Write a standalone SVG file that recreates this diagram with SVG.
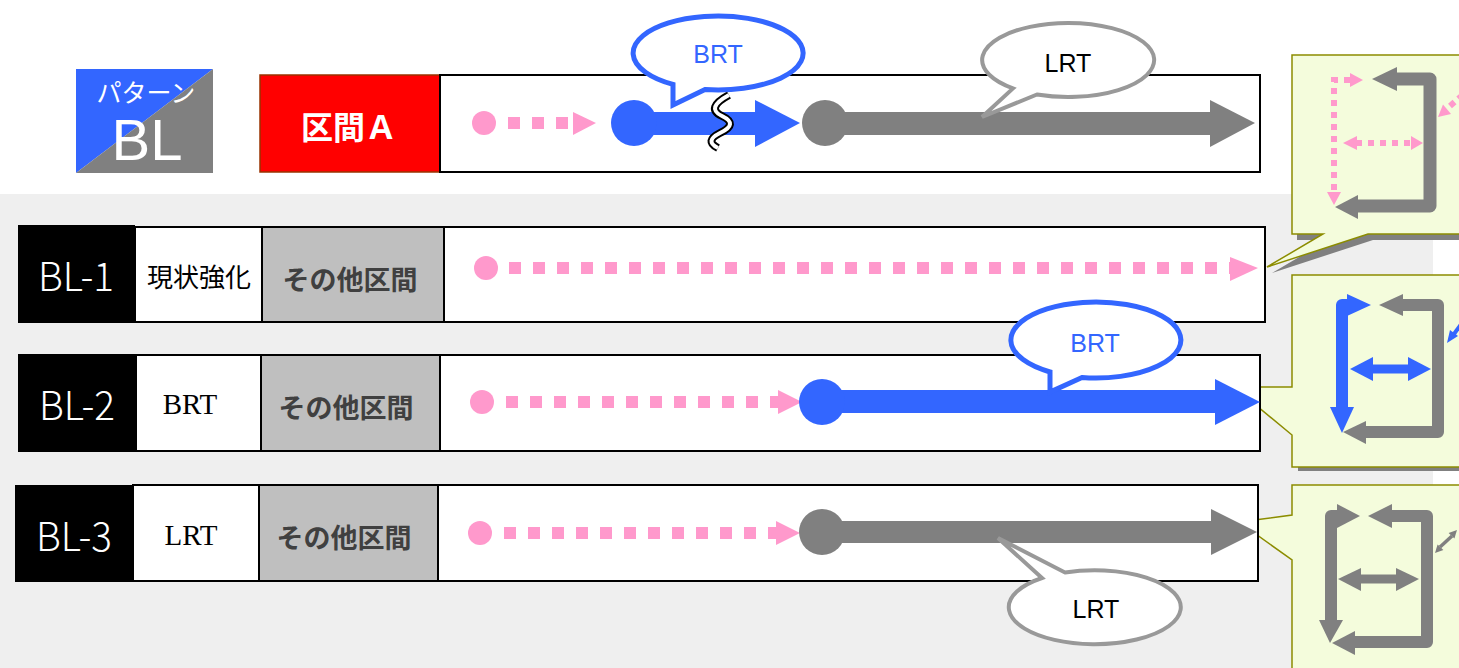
<svg xmlns="http://www.w3.org/2000/svg" width="1459" height="668" viewBox="0 0 1459 668">
<style>
.cell{stroke:#000;stroke-width:2}
.white{fill:#fff}
.grey{fill:#bfbfbf}
.black{fill:#000}
.lbl{font-family:"Noto Sans CJK JP","Liberation Sans",sans-serif;fill:#fff;font-size:40px;font-weight:300}
.cjk{font-family:"Noto Sans CJK JP",sans-serif}
.other{font-family:"Noto Sans CJK JP",sans-serif;font-weight:bold;font-size:27px;fill:#404040}
.serif{font-family:"Liberation Serif",serif;font-size:29px;fill:#000}
.sans{font-family:"Liberation Sans",sans-serif}
.pink{stroke:#ff99cc;stroke-width:12;stroke-dasharray:12 12;fill:none}
.pinkf{fill:#ff99cc}
.bluef{fill:#3366ff}
.greyf{fill:#808080}
.cbox{fill:#f4fcdc;stroke:#8c8c00;stroke-width:1.5}
.shadow{fill:#808080}
</style>
<rect x="0" y="194" width="1433" height="474" fill="#efefef"/>

<g id="callout-boxes">
  <g id="box1">
    <polygon class="shadow" transform="translate(5,6)" points="1292,55 1470,55 1470,234 1368,234 1267,267 1323,234 1292,234"/>
    <polygon class="cbox" points="1292,55 1470,55 1470,234 1368,234 1267,267 1323,234 1292,234"/>
    <path d="M1396,79 H1430 V206 H1356" fill="none" stroke="#808080" stroke-width="13" stroke-linejoin="round"/>
    <polygon class="greyf" points="1397,67 1372,79 1397,91"/>
    <polygon class="greyf" points="1358,195 1335,207 1358,219"/>
    <path d="M1350,80 H1334 V194" fill="none" stroke="#ff99cc" stroke-width="6" stroke-dasharray="6 6"/>
    <polygon class="pinkf" points="1350,73 1363,80 1350,87"/>
    <polygon class="pinkf" points="1327,192 1334,205 1341,192"/>
    <line x1="1356" y1="143" x2="1412" y2="143" stroke="#ff99cc" stroke-width="6" stroke-dasharray="6 6"/>
    <polygon class="pinkf" points="1357,136 1343,143 1357,150"/>
    <polygon class="pinkf" points="1411,136 1423,143 1411,150"/>
    <polygon class="pinkf" points="1438,117 1451,114 1443,104.6"/>
    <line x1="1450" y1="106" x2="1465" y2="93" stroke="#ff99cc" stroke-width="6" stroke-dasharray="6 5"/>
  </g>
  <g id="box2">
    <polygon class="shadow" transform="translate(6,4)" points="1292,275 1470,275 1470,467 1292,467 1292,435 1234,387 1292,387"/>
    <polygon class="cbox" points="1292,275 1470,275 1470,467 1292,467 1292,435 1234,387 1292,387"/>
    <path d="M1342,409 V305 H1350" fill="none" stroke="#3366ff" stroke-width="12" stroke-linejoin="round"/>
    <polygon class="bluef" points="1347,294 1371,305 1347,316"/>
    <polygon class="bluef" points="1330,407 1342,433 1354,407"/>
    <path d="M1403,305 H1438 V432 H1364" fill="none" stroke="#808080" stroke-width="12" stroke-linejoin="round"/>
    <polygon class="greyf" points="1403,294 1379,305 1403,316"/>
    <polygon class="greyf" points="1366,421 1343,432 1366,444"/>
    <line x1="1372" y1="369" x2="1409" y2="369" stroke="#3366ff" stroke-width="9"/>
    <polygon class="bluef" points="1373,357 1350,369 1373,381"/>
    <polygon class="bluef" points="1408,357 1431,369 1408,381"/>
    <polygon class="bluef" points="1447,343 1458,336 1450,330"/>
    <line x1="1454" y1="334" x2="1470" y2="312" stroke="#3366ff" stroke-width="4"/>
  </g>
  <g id="box3">
    <polygon class="shadow" transform="translate(6,4)" points="1292,485 1470,485 1470,680 1292,680 1292,560 1239,522 1292,515"/>
    <polygon class="cbox" points="1292,485 1470,485 1470,680 1292,680 1292,560 1239,522 1292,515"/>
    <path d="M1338,516 H1331 V622" fill="none" stroke="#808080" stroke-width="12" stroke-linejoin="round"/>
    <polygon class="greyf" points="1337,504 1360,516 1337,528"/>
    <polygon class="greyf" points="1319,620 1330,643 1343,620"/>
    <path d="M1392,516 H1427 V642 H1353" fill="none" stroke="#808080" stroke-width="12" stroke-linejoin="round"/>
    <polygon class="greyf" points="1392,504 1368,516 1392,528"/>
    <polygon class="greyf" points="1355,631 1332,643 1355,655"/>
    <line x1="1360" y1="579" x2="1397" y2="579" stroke="#808080" stroke-width="9"/>
    <polygon class="greyf" points="1361,568 1338,579 1361,591"/>
    <polygon class="greyf" points="1396,568 1419,579 1396,591"/>
    <line x1="1440" y1="547" x2="1452" y2="536" stroke="#808080" stroke-width="3.5"/>
    <polygon class="greyf" points="1435,553 1443.4,550 1437.6,544.4"/>
    <polygon class="greyf" points="1457,530 1454.4,538.6 1448.6,533"/>
  </g>
</g>

<g id="pattern-badge">
  <polygon points="76,69 213,69 76,173" fill="#3366ff"/>
  <polygon points="213,69 213,173 76,173" fill="#808080"/>
  <text x="146" y="102" class="cjk" font-size="25" fill="#fff" text-anchor="middle">パターン</text>
  <text x="147" y="160" class="sans" font-size="58" fill="#fff" text-anchor="middle">BL</text>
</g>

<g id="section-A">
  <rect x="260" y="75" width="180" height="97" fill="#ff0000" stroke="#993300" stroke-width="1.5"/>
  <text x="349" y="139" class="cjk" font-size="32" font-weight="bold" fill="#fff" text-anchor="middle">区間Ａ</text>
  <rect x="440" y="75" width="820" height="97" class="white cell"/>
</g>

<g id="row-BL1">
  <rect x="18" y="225" width="117" height="98" class="black"/>
  <text x="76" y="291" class="lbl" text-anchor="middle" textLength="76" lengthAdjust="spacingAndGlyphs">BL-1</text>
  <rect x="135" y="227" width="127" height="95" class="white cell"/>
  <text x="199" y="287" class="cjk" font-size="26" fill="#000" text-anchor="middle">現状強化</text>
  <rect x="262" y="227" width="182" height="95" class="grey cell"/>
  <text x="350" y="290" class="other" text-anchor="middle">その他区間</text>
  <rect x="444" y="227" width="821" height="95" class="white cell"/>
</g>

<g id="row-BL2">
  <rect x="18" y="354" width="118" height="98" class="black"/>
  <text x="77" y="420" class="lbl" text-anchor="middle" textLength="76" lengthAdjust="spacingAndGlyphs">BL-2</text>
  <rect x="136" y="355" width="125" height="96" class="white cell"/>
  <text x="190" y="414" class="serif" text-anchor="middle">BRT</text>
  <rect x="261" y="355" width="179" height="96" class="grey cell"/>
  <text x="346" y="418" class="other" text-anchor="middle">その他区間</text>
  <rect x="440" y="355" width="820" height="96" class="white cell"/>
</g>

<g id="row-BL3">
  <rect x="15" y="485" width="118" height="97" class="black"/>
  <text x="74" y="551" class="lbl" text-anchor="middle" textLength="76" lengthAdjust="spacingAndGlyphs">BL-3</text>
  <rect x="133" y="485" width="126" height="96" class="white cell"/>
  <text x="191" y="545" class="serif" text-anchor="middle">LRT</text>
  <rect x="259" y="485" width="179" height="96" class="grey cell"/>
  <text x="344" y="548" class="other" text-anchor="middle">その他区間</text>
  <rect x="438" y="485" width="820" height="96" class="white cell"/>
</g>

<g id="connectors">
  <circle cx="484" cy="123" r="12" class="pinkf"/>
  <line x1="508" y1="123" x2="570" y2="123" class="pink"/>
  <polygon class="pinkf" points="573,112 596,123 573,135"/>
  <rect x="634" y="112" width="122" height="23" class="bluef"/>
  <polygon class="bluef" points="755,100 800,123 755,147"/>
  <circle cx="634" cy="123" r="23" class="bluef"/>
  <rect x="825" y="112" width="386" height="23" class="greyf"/>
  <polygon class="greyf" points="1210,100 1255,123 1210,147"/>
  <circle cx="825" cy="123" r="23" class="greyf"/>
  <path d="M729,95 Q705,108 722,116 Q739,124 720,133 Q704,141 718,148" fill="none" stroke="#000" stroke-width="8"/>
  <path d="M729,95 Q705,108 722,116 Q739,124 720,133 Q704,141 718,148" fill="none" stroke="#fff" stroke-width="4"/>
  <circle cx="486" cy="268" r="12" class="pinkf"/>
  <line x1="509" y1="268" x2="1230" y2="268" class="pink"/>
  <polygon class="pinkf" points="1230,257 1258,268 1230,281"/>
  <circle cx="482" cy="402" r="12" class="pinkf"/>
  <line x1="506" y1="402" x2="782" y2="402" class="pink"/>
  <polygon class="pinkf" points="778,390 802,402 778,414"/>
  <rect x="822" y="390" width="394" height="23" class="bluef"/>
  <polygon class="bluef" points="1215,379 1260,402 1215,425"/>
  <circle cx="822" cy="402" r="23" class="bluef"/>
  <circle cx="480" cy="533" r="12" class="pinkf"/>
  <line x1="504" y1="533" x2="780" y2="533" class="pink"/>
  <polygon class="pinkf" points="776,521 800,533 776,545"/>
  <rect x="822" y="521" width="390" height="22" class="greyf"/>
  <polygon class="greyf" points="1211,509 1257,532 1211,555"/>
  <circle cx="822" cy="532" r="23" class="greyf"/>
</g>

<g id="callout-BRT-top">
  <path d="M673,84.4 L673,105 L705,89.6 A85,37 0 1 0 673,84.4 Z" fill="#fff" stroke="#3366ff" stroke-width="5"/>
  <text x="718" y="63" class="sans" font-size="25" fill="#3366ff" text-anchor="middle">BRT</text>
</g>
<g id="callout-LRT-top">
  <path d="M1013,88.4 L982,117 L1037,94.5 A86,37 0 1 0 1013,88.4 Z" fill="#fff" stroke="#999999" stroke-width="4"/>
  <text x="1068" y="72" class="sans" font-size="25" fill="#000" text-anchor="middle">LRT</text>
</g>
<g id="callout-BRT-2">
  <path d="M1050,372 L1050,392 L1082,377.5 A85,38 0 1 0 1050,372 Z" fill="#fff" stroke="#3366ff" stroke-width="5"/>
  <text x="1095" y="352" class="sans" font-size="25" fill="#3366ff" text-anchor="middle">BRT</text>
</g>
<g id="callout-LRT-3">
  <path d="M1042,578 L998,538 L1065,572.5 A86,37 0 1 1 1042,578 Z" fill="#fff" stroke="#999999" stroke-width="4"/>
  <text x="1096" y="618" class="sans" font-size="25" fill="#000" text-anchor="middle">LRT</text>
</g>
</svg>
